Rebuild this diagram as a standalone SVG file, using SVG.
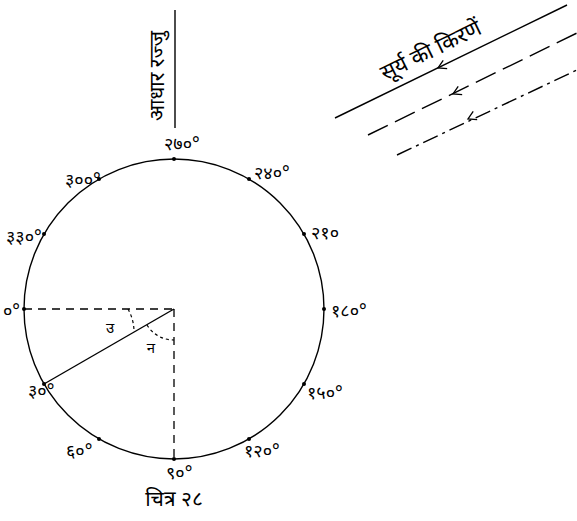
<svg xmlns="http://www.w3.org/2000/svg" width="577" height="521" viewBox="0 0 577 521">
<style>
.ln{fill:none;stroke:#000;stroke-width:1.4}
.ds{fill:none;stroke:#000;stroke-width:1.3;stroke-dasharray:8 6}
.ar{fill:none;stroke:#000;stroke-width:1.2;stroke-dasharray:3 3}
.t{font-family:"Noto Sans","Noto Sans Devanagari","Lohit Devanagari","FreeSans",sans-serif;font-size:18px;fill:#000}
.dot{fill:#000}
</style>
<defs>
<path id="chev" d="M8,-4.5 L0,0 L8,4.5" fill="none" stroke="#000" stroke-width="1.3"/>
</defs>
<rect width="577" height="521" fill="#fff"/>
<g id="circle">
<circle cx="174" cy="309" r="150" class="ln"/>
<g class="dot">
<circle cx="174" cy="159" r="2"/><circle cx="249" cy="179" r="2"/><circle cx="304" cy="234" r="2"/>
<circle cx="324" cy="309" r="2"/><circle cx="304" cy="384" r="2"/><circle cx="249" cy="439" r="2"/>
<circle cx="174" cy="459" r="2"/><circle cx="99" cy="439" r="2"/><circle cx="44" cy="384" r="2"/>
<circle cx="24" cy="309" r="2"/><circle cx="44" cy="234" r="2"/><circle cx="99" cy="179" r="2"/>
</g>
</g>
<g id="connectors">
<line x1="175" y1="10" x2="175" y2="128" class="ln"/>
<line x1="24" y1="309" x2="174" y2="309" class="ds"/>
<line x1="174" y1="309" x2="174" y2="459" class="ds"/>
<line x1="174" y1="309" x2="44" y2="384" class="ln"/>
<path d="M128,309 A46,46 0 0 1 134,332" class="ar"/>
<path d="M147,325 A31,31 0 0 0 174,340" class="ar"/>
<line x1="335" y1="118" x2="567" y2="5" class="ln"/>
<line x1="368" y1="135" x2="577" y2="33" class="ln" stroke-dasharray="22 8"/>
<line x1="397" y1="155" x2="577" y2="70" class="ln" stroke-dasharray="16 5 3 5"/>
<use href="#chev" transform="translate(438,68) rotate(-26)"/>
<use href="#chev" transform="translate(453,94) rotate(-26)"/>
<use href="#chev" transform="translate(468,119) rotate(-26)"/>
</g>
<g id="labels" class="t">
<text x="158" y="76" text-anchor="middle" transform="rotate(-90 158 76)" dy="6" font-size="21">आधार रज्जु</text>
<text x="434" y="57" text-anchor="middle" transform="rotate(-26 434 57)" font-size="22">सूर्य की किरणें</text>
<text x="164" y="150">२७०°</text>
<text x="254" y="179">२४०°</text>
<text x="311" y="239">२१०</text>
<text x="331" y="317">१८०°</text>
<text x="307" y="399">१५०°</text>
<text x="244" y="457">१२०°</text>
<text x="166" y="479">९०°</text>
<text x="66" y="457">६०°</text>
<text x="28" y="397">३०°</text>
<text x="3" y="317">०°</text>
<text x="6" y="243">३३०°</text>
<text x="65" y="186">३००°</text>
<text x="110" y="333" text-anchor="middle" font-size="15">उ</text>
<text x="151" y="353" text-anchor="middle" font-size="15">न</text>
<text x="174" y="506" text-anchor="middle" font-size="21">चित्र २८</text>
</g>
</svg>
